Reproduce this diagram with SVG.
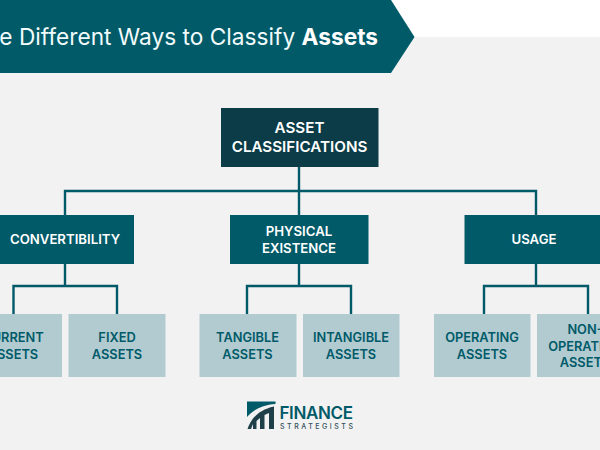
<svg xmlns="http://www.w3.org/2000/svg" width="600" height="450" viewBox="0 0 600 450">
<style>
text{font-family:Inter,"Liberation Sans",sans-serif;text-anchor:middle}
.dark{fill:#0b3c47}.mid{fill:#005a68}.leaf{fill:#b1cbd1}
.w{fill:#fff;font-size:13.200px;font-weight:600}
.r{fill:#fff;font-size:15.200px;font-weight:600}
.t{fill:#005a68;font-size:12.800px;font-weight:600}
.c{fill:none;stroke:#005a68;stroke-width:2.400}
</style>
<rect width="600" height="450" fill="#f2f2f2"/>
<rect x="390" width="210" height="37" fill="#fff"/>
<g id="title"><polygon points="0,0 391,0 414.500,37 391,73 0,73" fill="#005a68"/>
<text x="378" y="45" style="text-anchor:end;font-size:22.700px" fill="#f2fbfc">The Different Ways to Classify <tspan font-weight="700" fill="#fff">Assets</tspan></text></g>
<g id="connectors">
<path class="c" d="M299 167V191M65 215V191H536V215M299 191V215"/>
<path class="c" d="M65 264V286M13.500 314V286H117V314"/>
<path class="c" d="M299 264V286M247 314V286H351V314"/>
<path class="c" d="M536 264V286M484 314V286H588V314"/>
</g>
<g id="root"><rect class="dark" x="221" y="108" width="157.500" height="59"/><text class="r" x="299.500" y="132.500">ASSET</text><text class="r" x="299.500" y="152">CLASSIFICATIONS</text></g>
<g id="convertibility"><rect class="mid" x="-5" y="215" width="139" height="49"/><text class="w" x="65" y="244">CONVERTIBILITY</text></g>
<g id="physical"><rect class="mid" x="230" y="215" width="138.500" height="49"/><text class="w" x="299" y="235.500">PHYSICAL</text><text class="w" x="299" y="253">EXISTENCE</text></g>
<g id="usage"><rect class="mid" x="464.500" y="215" width="140" height="49"/><text class="w" x="534" y="244">USAGE</text></g>
<g id="current"><rect class="leaf" x="-35" y="314" width="97" height="63"/><text class="t" x="13" y="342">CURRENT</text><text class="t" x="13" y="359">ASSETS</text></g>
<g id="fixed"><rect class="leaf" x="68.500" y="314" width="97" height="63"/><text class="t" x="117" y="342">FIXED</text><text class="t" x="117" y="359">ASSETS</text></g>
<g id="tangible"><rect class="leaf" x="199.500" y="314" width="97" height="63"/><text class="t" x="247.500" y="342">TANGIBLE</text><text class="t" x="247.500" y="359">ASSETS</text></g>
<g id="intangible"><rect class="leaf" x="303" y="314" width="96.500" height="63"/><text class="t" x="351" y="342">INTANGIBLE</text><text class="t" x="351" y="359">ASSETS</text></g>
<g id="operating"><rect class="leaf" x="434" y="314" width="96.500" height="63"/><text class="t" x="482" y="342">OPERATING</text><text class="t" x="482" y="359">ASSETS</text></g>
<g id="nonoperating"><rect class="leaf" x="537" y="314" width="97" height="63"/><text class="t" x="585" y="334">NON-</text><text class="t" x="585" y="351">OPERATING</text><text class="t" x="585" y="367">ASSETS</text></g>
<g id="logo">
<path fill="#005a68" d="M247 401.500H275.500V404C262 405 253 410 247 417Z"/>
<path fill="#1f3f48" d="M247.500 429C251 419 258 410 274 406.500V429H269V413L264.500 415V429H260V418L256.500 421V429H253V424L251 429Z"/>
<text x="279.500" y="418.500" style="text-anchor:start;font-size:17px;font-weight:600" fill="#005a68" textLength="73.500">FINANCE</text>
<text x="280" y="428.500" style="text-anchor:start;font-size:7px;font-weight:500" fill="#33505a" textLength="73">STRATEGISTS</text>
</g>
</svg>
